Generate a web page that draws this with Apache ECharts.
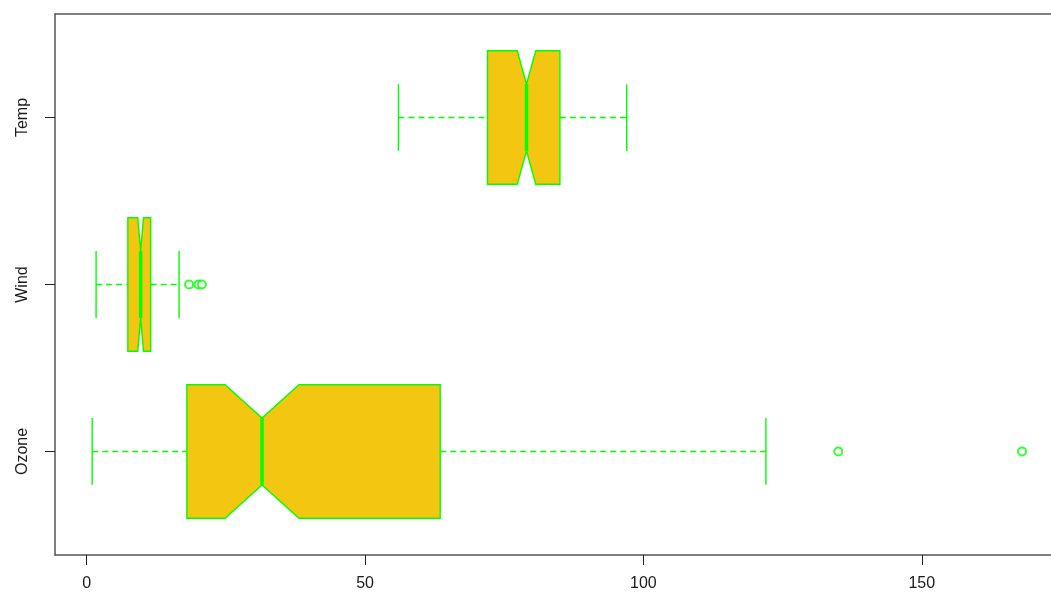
<!DOCTYPE html>
<html><head><meta charset="utf-8">
<script src="https://cdn.jsdelivr.net/npm/echarts@6/dist/echarts.min.js"></script>
<style>html,body{margin:0;padding:0;background:#fff}#c{width:1051px;height:599px}</style>
</head><body><div id="c"></div>
<script>
// Data (airquality boxplot, horizontal, notched)
const categories = ['Ozone', 'Wind', 'Temp'];
const whiskerLow = [1, 1.7, 56];
const q1 = [18, 7.4, 72];
const median = [31.5, 9.7, 79];
const q3 = [63.5, 11.5, 85];
const whiskerHigh = [122, 16.6, 97];
const notchLow = [24.86, 9.18, 77.34];
const notchHigh = [38.14, 10.22, 80.66];
const outliers = [[135, 1], [168, 1], [18.4, 2], [20.1, 2], [20.7, 2]];
const xTicks = [0, 50, 100, 150];

const GREEN = '#00ff00';
const FILL = '#F2C611';
const boxData = categories.map((c, i) => [i + 1, whiskerLow[i], q1[i], notchLow[i], median[i], notchHigh[i], q3[i], whiskerHigh[i]]);

function renderBox(params, api) {
  const y = api.value(0);
  const wl = api.value(1), a = api.value(2), nl = api.value(3), m = api.value(4),
        nh = api.value(5), b = api.value(6), wh = api.value(7);
  const hw = 0.4, nw = 0.2, sw = 0.2;
  const P = (x, yy) => api.coord([x, yy]);
  const poly = [
    P(a, y - hw), P(nl, y - hw), P(m, y - nw), P(nh, y - hw), P(b, y - hw),
    P(b, y + hw), P(nh, y + hw), P(m, y + nw), P(nl, y + hw), P(a, y + hw)
  ];
  const line = (p1, p2, style) => ({
    type: 'line',
    shape: { x1: p1[0], y1: p1[1], x2: p2[0], y2: p2[1] },
    style: Object.assign({ stroke: GREEN, lineWidth: 1.4 }, style)
  });
  return {
    type: 'group',
    children: [
      line(P(wl, y), P(a, y), { lineDash: [6, 4] }),
      line(P(b, y), P(wh, y), { lineDash: [6, 4] }),
      line(P(wl, y - sw), P(wl, y + sw), {}),
      line(P(wh, y - sw), P(wh, y + sw), {}),
      { type: 'polygon', shape: { points: poly }, style: { fill: FILL, stroke: GREEN, lineWidth: 1.4 } },
      line(P(m, y - nw), P(m, y + nw), { lineWidth: 3.5 })
    ]
  };
}

const chart = echarts.init(document.getElementById('c'), null, { renderer: 'canvas' });
const labelFont = { fontFamily: 'Liberation Sans, Arial, sans-serif', fontSize: 16, color: '#1a1a1a' };
const frame = { show: true, onZero: false, lineStyle: { color: '#555', width: 1.5 } };
chart.setOption({
  animation: false,
  grid: { left: 55, top: 14, bottom: 44, right: 0 },
  xAxis: [{
    type: 'value', min: -5.68, max: 173.2, position: 'bottom',
    splitLine: { show: false },
    axisLine: frame,
    axisTick: { show: true, length: 10, customValues: xTicks, lineStyle: { color: '#222', width: 1 } },
    axisLabel: Object.assign({ customValues: xTicks, margin: 21 }, labelFont)
  }, {
    type: 'value', min: -5.68, max: 173.2, position: 'top',
    splitLine: { show: false }, axisLine: frame,
    axisTick: { show: false }, axisLabel: { show: false }
  }],
  yAxis: {
    type: 'value', min: 0.38, max: 3.62,
    splitLine: { show: false },
    axisLine: frame,
    axisTick: { show: true, length: 10, customValues: [1, 2, 3], lineStyle: { color: '#222', width: 1 } },
    axisLabel: Object.assign({ customValues: [1, 2, 3], rotate: 90, margin: 24,
      formatter: v => categories[Math.round(v) - 1] || '' }, labelFont)
  },
  series: [
    { type: 'custom', renderItem: renderBox, data: boxData, encode: { x: [1, 7], y: 0 }, clip: false, silent: true },
    { type: 'scatter', data: outliers, symbol: 'emptyCircle', symbolSize: 8,
      itemStyle: { color: GREEN, borderColor: GREEN, borderWidth: 1.1 }, silent: true }
  ]
});
</script></body></html>
